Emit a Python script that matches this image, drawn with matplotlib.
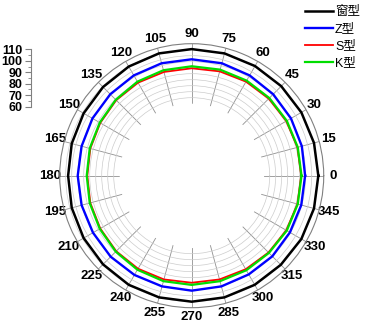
import numpy as np
import matplotlib.pyplot as plt

plt.rcParams['font.family'] = ['Liberation Sans', 'Noto Sans CJK SC', 'DejaVu Sans']

angles = [0, 15, 30, 45, 60, 75, 90, 105, 120, 135, 150, 165,
          180, 195, 210, 225, 240, 255, 270, 285, 300, 315, 330, 345]
window_type = [105.5, 105.5, 105.5, 105.5, 105.5, 105.5, 105.5, 105.5, 105, 104.5, 104, 103.5,
               103, 103.5, 104, 104.5, 105, 105, 105, 105, 105, 105, 105.5, 105.5]
z_type = [94.5, 95, 95.5, 96, 96.5, 97, 97, 97, 96.5, 96, 95.5, 95,
          95, 95, 95, 95.5, 95.5, 95.5, 95.8, 95.5, 95, 95, 94.5, 94.5]
s_type = [91.2, 91.2, 91, 90.8, 90.5, 90, 89.5, 89.5, 89.5, 89, 88, 87.5,
          87, 87.5, 88, 89, 89.5, 89.5, 89.2, 89.5, 90, 90.5, 91, 91.2]
k_type = [91.5, 91.5, 91.5, 91.5, 91.5, 91.5, 91.2, 91, 90.5, 89.5, 88.5, 88,
          87.5, 88, 88.5, 89.5, 90.5, 91, 91, 91, 91, 91, 91.5, 91.5]

series = [
    ('窗型', window_type, 'black', 1.8),
    ('Z型', z_type, '#0000ff', 1.7),
    ('S型', s_type, '#ff0000', 1.3),
    ('K型', k_type, '#00dd00', 1.6),
]

r_min, r_max = 60, 110

fig = plt.figure(figsize=(3.65, 3.31), dpi=100)
ax = fig.add_axes([0.1636, 0.0704, 0.7233, 0.7976], projection='polar')

theta = np.deg2rad(angles + [angles[0]])
for name, vals, col, lw in series:
    ax.plot(theta, list(vals) + [vals[0]], color=col, lw=lw, label=name)

ax.set_rorigin(0)
ax.set_ylim(r_min, r_max)
ax.set_yticks(np.arange(65, 110, 5))
ax.set_yticklabels([])
ax.yaxis.grid(True, color='#cccccc', lw=0.5)

ax.set_xticks(np.deg2rad(np.arange(0, 360, 15)))
ax.set_xticklabels([str(a) for a in range(0, 360, 15)], fontsize=9.5, fontweight='bold')
ax.set_xticks(np.deg2rad(np.arange(0, 360, 5)), minor=True)
ax.xaxis.grid(True, color='#909090', lw=0.6)
ax.tick_params(axis='x', which='major', pad=-4, direction='out', length=4, color='#808080')
ax.tick_params(axis='x', which='minor', direction='out', length=2, color='#808080')
ax.spines['polar'].set_color('#808080')
ax.spines['polar'].set_linewidth(0.8)
ax.spines['inner'].set_color('none')
ax.spines['inner'].set_linewidth(0)

# === Radiale Skala links ===
sax = fig.add_axes([31 / 365, 1 - 106.7 / 331, 0.001, 57.4 / 331])
sax.set_ylim(r_min, r_max)
sax.set_yticks(np.arange(60, 111, 10))
sax.set_yticks(np.arange(60, 111, 5), minor=True)
sax.set_yticklabels([str(v) for v in range(60, 111, 10)], fontsize=9, fontweight='bold')
sax.set_xticks([])
for s in ['top', 'bottom', 'right']:
    sax.spines[s].set_visible(False)
sax.spines['left'].set_color('#808080')
sax.tick_params(axis='y', which='major', length=4, color='#808080', pad=2)
sax.tick_params(axis='y', which='minor', length=2, color='#808080')

fig.legend(loc='upper left', bbox_to_anchor=(305 / 365, 1 - 6 / 331), frameon=False,
           fontsize=9, handlelength=2.2, handletextpad=0.2, labelspacing=0.4,
           borderaxespad=0, borderpad=0)

fig.savefig('out.png', dpi=100)
